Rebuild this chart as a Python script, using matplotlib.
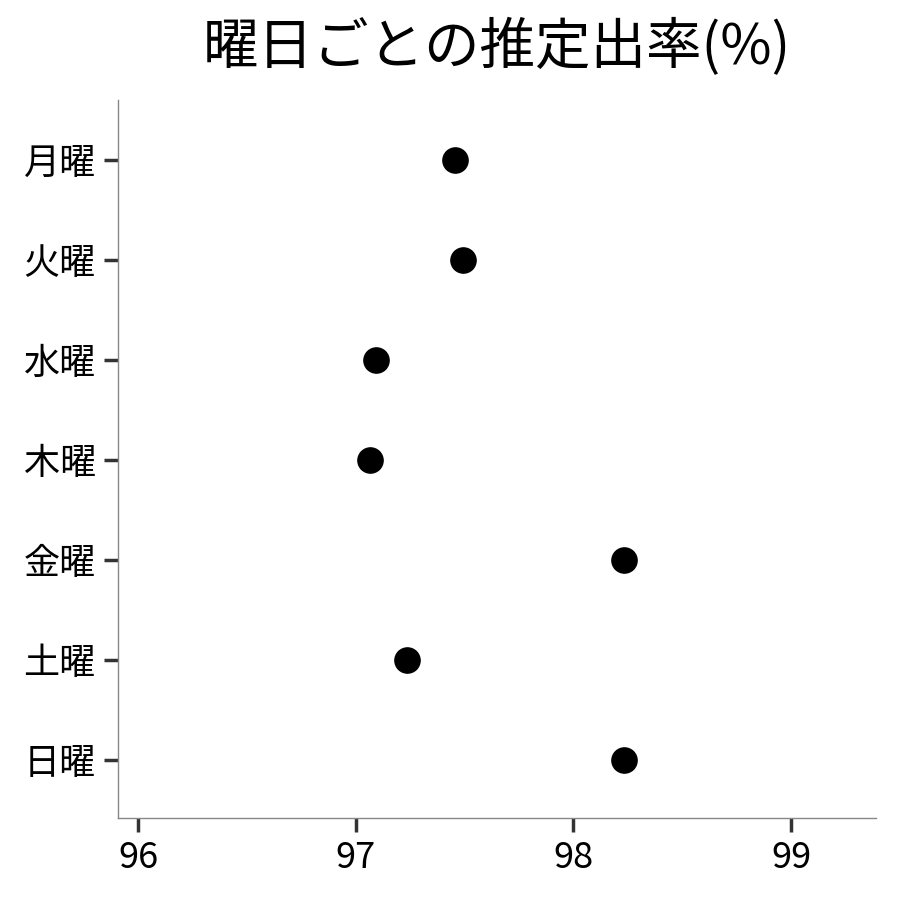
import matplotlib
matplotlib.use("Agg")
import matplotlib.pyplot as plt

plt.rcParams['font.family'] = ['Noto Sans CJK JP', 'DejaVu Sans']

# 曜日ごとの推定値
days = ['月曜', '火曜', '水曜', '木曜', '金曜', '土曜', '日曜']
rates = [97.456, 97.493, 97.093, 97.066, 98.232, 97.236, 98.232]
xticks = [96, 97, 98, 99]

fig = plt.figure(figsize=(9, 9), dpi=100, facecolor='white')
ax = fig.add_axes([118 / 900, 82 / 900, 758 / 900, 718 / 900])

ypos = list(range(len(days)))[::-1]
ax.scatter(rates, ypos, s=330, color='black', zorder=3)

ax.set_yticks(ypos)
ax.set_yticklabels(days)
ax.set_xticks(xticks)
ax.set_xlim(95.908, 99.39)
ax.set_ylim(-0.58, 6.6)

for side in ['top', 'right']:
    ax.spines[side].set_visible(False)
for side in ['left', 'bottom']:
    ax.spines[side].set_color('#888888')
    ax.spines[side].set_linewidth(1.0)

ax.tick_params(axis='both', colors='#333333', width=2.5, length=10,
               labelsize=26, labelcolor='black', pad=6)

# タイトルはパネルの中央に置く
fig.text(497 / 900, 1 - 48 / 900, '曜日ごとの推定出率(%)', ha='center', va='center', fontsize=40)

fig.savefig('out.png', dpi=100)
